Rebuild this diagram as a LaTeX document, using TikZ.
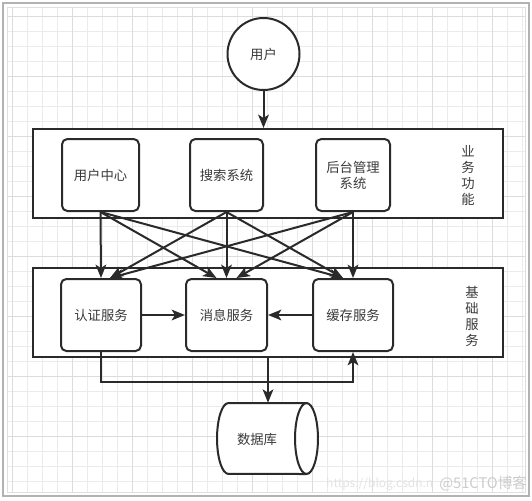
\documentclass[tikz,border=0pt]{standalone}
\usepackage{fontspec}
\newfontfamily\cjk{Noto Sans CJK SC}
\usetikzlibrary{arrows.meta}
\definecolor{linecol}{HTML}{2A2A2A}
\definecolor{textcol}{HTML}{3A3A3A}
\definecolor{gridminor}{HTML}{EBEBEB}
\definecolor{gridmajor}{HTML}{DCDCDC}

\begin{document}
\begin{tikzpicture}[x=0.75pt, y=-0.75pt,
        every node/.style={font=\cjk\fontsize{10}{12}\selectfont, text=textcol},
        group/.style={draw=linecol, line width=1.5pt, fill=white, minimum width=352.5pt, minimum height=66.75pt, inner sep=0pt},
        box/.style={draw=linecol, line width=1.5pt, rounded corners=4pt, fill=white, minimum height=54pt, inner sep=0pt, align=center},
        arr/.style={draw=linecol, line width=1.5pt, -{Stealth[length=10pt, width=8pt, inset=2.5pt]}},
        side/.style={align=center}
    ]
        \useasboundingbox (0,0) rectangle (532,500);
        \fill [white] (0,0) rectangle (532,500);

        % grid paper
        \foreach \gx in {12,27,...,522} \draw [gridminor, line width=0.6pt] (\gx,7) -- (\gx,492);
        \foreach \gy in {16,31,...,481} \draw [gridminor, line width=0.6pt] (7,\gy) -- (525,\gy);
        \foreach \gx in {12,72,...,492} \draw [gridmajor, line width=0.6pt] (\gx,7) -- (\gx,492);
        \foreach \gy in {16,76,...,436} \draw [gridmajor, line width=0.6pt] (7,\gy) -- (525,\gy);
        \draw [gray!25, line width=0.6pt] (7,7) rectangle (525,492);
        \draw [gray!60, line width=0.8pt] (3,3) rectangle (529,496);

        \node [circle, draw=linecol, line width=1.5pt, fill=white, minimum size=54pt, inner sep=0pt] (user) at (263.5, 54) {用户};

        \node [group] (biz) at (268, 173.5) {};
        \node [box, minimum width=57.75pt] (uc) at (100.5, 175) {用户中心};
        \node [box, minimum width=54.75pt] (ss) at (226.5, 175) {搜索系统};
        \node [box, minimum width=55.5pt] (ht) at (353, 175) {后台管理\\系统};
        \node [side] (bizlabel) at (468, 176) {业\\务\\功\\能};

        \node [group] (base) at (268, 312.5) {};
        \node [box, minimum width=60pt] (rz) at (101, 315) {认证服务};
        \node [box, minimum width=60.75pt] (xx) at (226.5, 315) {消息服务};
        \node [box, minimum width=60pt] (hc) at (353, 315) {缓存服务};
        \node [side] (baselabel) at (472, 316) {基\\础\\服\\务};

        % database drum, lying on its side
        \node [minimum width=75.75pt, minimum height=53.25pt, inner sep=0pt] (db) at (267.5, 438.5) {};
        \filldraw [draw=linecol, fill=white, line width=1.5pt]
            (306.5, 403) -- (228.5, 403) arc [start angle=90, end angle=270, x radius=8.6pt, y radius=26.6pt]
            -- (306.5, 474) arc [start angle=-90, end angle=90, x radius=8.6pt, y radius=26.6pt] -- cycle;
        \draw [linecol, line width=1.5pt] (306.5, 403) arc [start angle=90, end angle=270, x radius=8.6pt, y radius=26.6pt];
        \node (dblabel) at (257, 439) {数据库};

        \node [anchor=east, text=gray!22, font=\cjk\fontsize{9}{11}\selectfont] (csdn) at (438, 484) {https://blog.csdn.n};
        \node [anchor=west, inner sep=0pt, text=gray!40, font=\cjk\fontsize{11}{13}\selectfont] (cto) at (439, 484) {@51CTO博客};

        \draw [arr] (user) -- (user |- biz.north);

        \draw [arr] (uc.south) -- (rz.north);
        \draw [arr] (uc.south) -- ([xshift=-7.5pt]xx.north);
        \draw [arr] (uc.south) -- ([xshift=-7.5pt]hc.north);
        \draw [arr] (ss.south) -- ([xshift=6.75pt]rz.north);
        \draw [arr] (ss.south) -- (xx.north);
        \draw [arr] (ss.south) -- ([xshift=-7.5pt]hc.north);
        \draw [arr] (ht.south) -- ([xshift=6.75pt]rz.north);
        \draw [arr] (ht.south) -- ([xshift=7.5pt]xx.north);
        \draw [arr] (ht.south) -- (hc.north);

        \draw [arr] (rz) -- (xx);
        \draw [arr] (hc) -- (xx);
        \draw [arr] (rz.south) -- ++(0,30) -| (hc.south);
        \draw [arr] (base.south) -- (base.south |- db.north);
    \end{tikzpicture}
\end{document}
